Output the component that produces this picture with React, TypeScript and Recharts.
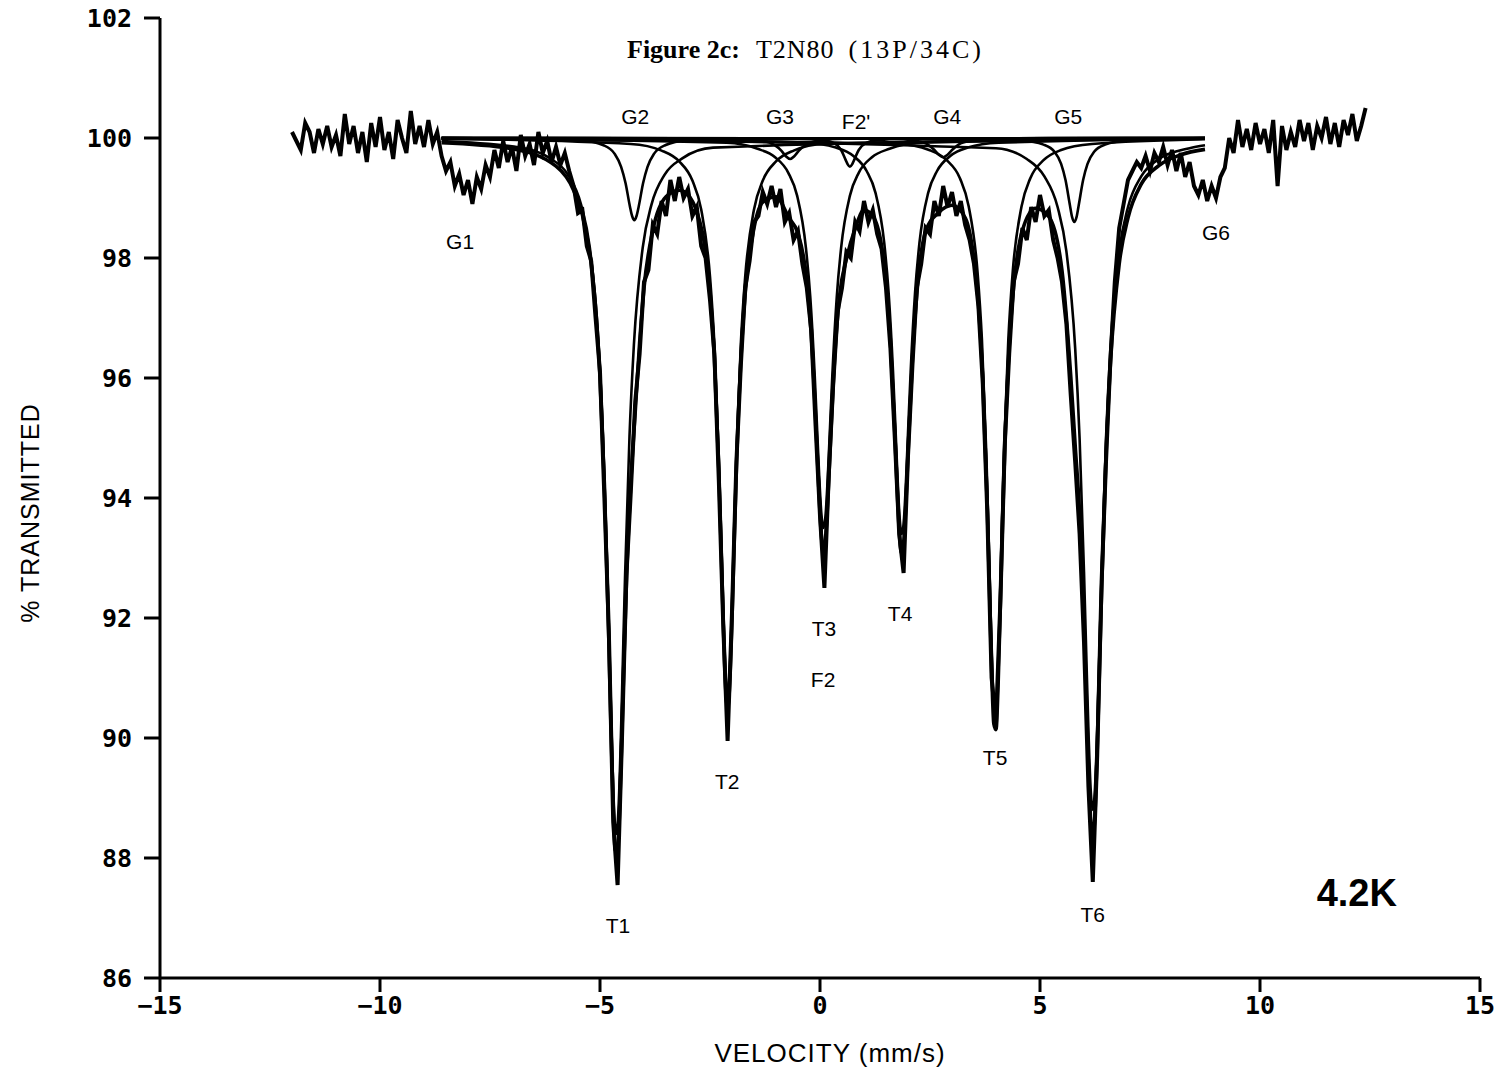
import { LineChart, Line, XAxis, YAxis, ReferenceDot } from 'recharts';

type Pt = [number, number];

const velocityTicks = [-15, -10, -5, 0, 5, 10, 15];
const transmissionTicks = [86, 88, 90, 92, 94, 96, 98, 100, 102];

// measured spectrum: [velocity mm/s, % transmitted]
const measured: Pt[] = [
    [-12.0, 100.1], [-11.9, 99.95], [-11.8, 99.8], [-11.7, 100.25], [-11.6, 100.1], [-11.5, 99.75], [-11.4, 100.15], [-11.3, 99.9], [-11.2, 100.2], [-11.1, 99.85],
    [-11.0, 100.05], [-10.9, 99.7], [-10.8, 100.4], [-10.7, 99.9], [-10.6, 100.2], [-10.5, 99.75], [-10.4, 100.1], [-10.3, 99.6], [-10.2, 100.25], [-10.1, 99.85],
    [-10.0, 100.35], [-9.9, 99.8], [-9.8, 100.1], [-9.7, 99.65], [-9.6, 100.3], [-9.5, 100.0], [-9.4, 99.75], [-9.3, 100.45], [-9.2, 99.9], [-9.1, 100.2],
    [-9.0, 99.85], [-8.9, 100.3], [-8.8, 99.9], [-8.7, 100.1], [-8.6, 99.7], [-8.5, 99.45], [-8.4, 99.6], [-8.3, 99.2], [-8.2, 99.4], [-8.1, 99.05],
    [-8.0, 99.3], [-7.9, 98.9], [-7.8, 99.35], [-7.7, 99.15], [-7.6, 99.55], [-7.5, 99.35], [-7.4, 99.8], [-7.3, 99.5], [-7.2, 99.95], [-7.1, 99.6],
    [-7.0, 99.85], [-6.9, 99.45], [-6.8, 100.05], [-6.7, 99.7], [-6.6, 99.9], [-6.5, 99.55], [-6.4, 100.1], [-6.3, 99.75], [-6.2, 99.95], [-6.1, 99.6],
    [-6.0, 99.85], [-5.9, 99.55], [-5.8, 99.75], [-5.7, 99.45], [-5.6, 99.2], [-5.5, 98.75], [-5.4, 98.8], [-5.3, 98.2], [-5.2, 97.95], [-5.1, 97.0],
    [-5.0, 96.1], [-4.9, 94.0], [-4.8, 91.8], [-4.7, 88.6], [-4.6, 87.55], [-4.5, 90.0], [-4.4, 92.7], [-4.3, 94.1], [-4.2, 95.6], [-4.1, 96.4],
    [-4.0, 97.6], [-3.9, 97.8], [-3.8, 98.55], [-3.7, 98.4], [-3.6, 98.95], [-3.5, 98.7], [-3.4, 99.3], [-3.3, 98.95], [-3.2, 99.35], [-3.1, 99.0],
    [-3.0, 99.15], [-2.9, 98.7], [-2.8, 98.85], [-2.7, 98.2], [-2.6, 98.0], [-2.5, 97.3], [-2.4, 96.4], [-2.3, 94.3], [-2.2, 91.9], [-2.1, 89.95],
    [-2.0, 92.1], [-1.9, 94.6], [-1.8, 96.2], [-1.7, 97.5], [-1.6, 97.95], [-1.5, 98.6], [-1.4, 98.7], [-1.3, 99.1], [-1.2, 98.9], [-1.1, 99.2],
    [-1.0, 98.85], [-0.9, 99.15], [-0.8, 98.6], [-0.7, 98.75], [-0.6, 98.3], [-0.5, 98.45], [-0.4, 97.9], [-0.3, 97.5], [-0.2, 96.8], [-0.1, 95.2],
    [0.0, 93.7], [0.1, 92.5], [0.2, 94.4], [0.3, 95.9], [0.4, 97.1], [0.5, 97.5], [0.6, 98.1], [0.7, 98.0], [0.8, 98.6], [0.9, 98.45],
    [1.0, 98.95], [1.1, 98.6], [1.2, 98.8], [1.3, 98.4], [1.4, 98.15], [1.5, 97.5], [1.6, 96.5], [1.7, 95.0], [1.8, 93.4], [1.9, 92.75],
    [2.0, 94.7], [2.1, 96.2], [2.2, 97.5], [2.3, 97.9], [2.4, 98.5], [2.5, 98.4], [2.6, 98.95], [2.7, 98.7], [2.8, 99.2], [2.9, 98.85],
    [3.0, 99.1], [3.1, 98.7], [3.2, 98.95], [3.3, 98.55], [3.4, 98.3], [3.5, 97.9], [3.6, 97.2], [3.7, 95.9], [3.8, 93.8], [3.9, 91.0],
    [4.0, 90.25], [4.1, 92.3], [4.2, 94.9], [4.3, 96.4], [4.4, 97.6], [4.5, 97.9], [4.6, 98.5], [4.7, 98.3], [4.8, 98.85], [4.9, 98.6],
    [5.0, 99.05], [5.1, 98.7], [5.2, 98.8], [5.3, 98.3], [5.4, 98.0], [5.5, 97.6], [5.6, 96.9], [5.7, 95.7], [5.8, 94.6], [5.9, 93.4],
    [6.0, 91.6], [6.1, 89.2], [6.2, 87.6], [6.3, 89.7], [6.4, 92.6], [6.5, 94.6], [6.6, 96.3], [6.7, 97.6], [6.8, 98.5], [6.9, 98.9],
    [7.0, 99.3], [7.1, 99.45], [7.2, 99.6], [7.3, 99.5], [7.4, 99.7], [7.5, 99.45], [7.6, 99.75], [7.7, 99.6], [7.8, 99.85], [7.9, 99.55],
    [8.0, 99.8], [8.1, 99.45], [8.2, 99.75], [8.3, 99.35], [8.4, 99.6], [8.5, 99.2], [8.6, 99.05], [8.7, 99.3], [8.8, 98.95], [8.9, 99.2],
    [9.0, 99.0], [9.1, 99.35], [9.2, 99.5], [9.3, 100.0], [9.4, 99.75], [9.5, 100.3], [9.6, 99.85], [9.7, 100.15], [9.8, 99.8], [9.9, 100.25],
    [10.0, 99.9], [10.1, 100.15], [10.2, 99.75], [10.3, 100.3], [10.4, 99.2], [10.5, 100.2], [10.6, 99.8], [10.7, 100.1], [10.8, 99.85], [10.9, 100.3],
    [11.0, 99.95], [11.1, 100.25], [11.2, 99.8], [11.3, 100.2], [11.4, 100.0], [11.5, 100.35], [11.6, 99.9], [11.7, 100.25], [11.8, 99.85], [11.9, 100.3],
    [12.0, 100.05], [12.1, 100.4], [12.2, 99.95], [12.3, 100.2], [12.4, 100.5],
];

// total fitted envelope
const fitTotal: Pt[] = [
    [-8.6, 99.92], [-7.0, 99.82], [-6.0, 99.53], [-5.6, 99.13], [-5.4, 98.72], [-5.2, 97.9], [-5.1, 97.18], [-5.0, 96.0], [-4.9, 94.23], [-4.8, 91.65],
    [-4.75, 90.17], [-4.7, 88.87], [-4.65, 88.12], [-4.6, 88.13], [-4.55, 88.9], [-4.5, 90.12], [-4.45, 91.43], [-4.4, 92.59], [-4.3, 94.26], [-4.2, 95.43],
    [-4.1, 96.58], [-4.0, 97.5], [-3.8, 98.46], [-3.5, 99.02], [-3.2, 99.13], [-3.0, 99.05], [-2.8, 98.77], [-2.6, 98.11], [-2.5, 97.44], [-2.4, 96.33],
    [-2.3, 94.49], [-2.25, 93.26], [-2.2, 91.98], [-2.15, 90.92], [-2.1, 90.5], [-2.05, 90.93], [-2.0, 91.98], [-1.95, 93.27], [-1.9, 94.5], [-1.8, 96.29],
    [-1.7, 97.41], [-1.5, 98.5], [-1.3, 98.93], [-1.0, 99.02], [-0.7, 98.66], [-0.5, 98.41], [-0.3, 97.62], [-0.2, 96.74], [-0.1, 95.36], [-0.05, 94.53],
    [0.0, 93.75], [0.05, 93.24], [0.1, 93.17], [0.15, 93.6], [0.2, 94.32], [0.25, 95.13], [0.35, 96.53], [0.45, 97.4], [0.6, 97.98], [0.8, 98.49],
    [1.0, 98.8], [1.2, 98.7], [1.4, 98.2], [1.5, 97.61], [1.6, 96.63], [1.7, 95.1], [1.75, 94.22], [1.8, 93.46], [1.85, 93.08], [1.9, 93.25],
    [1.95, 93.88], [2.0, 94.73], [2.1, 96.31], [2.2, 97.4], [2.4, 98.44], [2.7, 98.76], [3.0, 98.88], [3.3, 98.67], [3.5, 97.97], [3.6, 97.24],
    [3.7, 95.99], [3.8, 93.91], [3.85, 92.54], [3.9, 91.18], [3.95, 90.24], [4.0, 90.14], [4.05, 90.94], [4.1, 92.25], [4.15, 93.64], [4.2, 94.84],
    [4.3, 96.53], [4.4, 97.51], [4.6, 98.46], [4.9, 98.83], [5.2, 98.69], [5.5, 97.79], [5.7, 96.02], [5.8, 94.87], [5.9, 93.75], [6.0, 91.94],
    [6.05, 90.74], [6.1, 89.56], [6.15, 88.65], [6.2, 88.34], [6.25, 88.76], [6.3, 89.78], [6.35, 91.1], [6.4, 92.45], [6.5, 94.71], [6.6, 96.23],
    [6.8, 97.9], [7.0, 98.67], [7.3, 99.23], [7.7, 99.54], [8.2, 99.72], [8.75, 99.81],
];

// fitted sub-spectra lines
const fitT1: Pt[] = [
    [-8.6, 99.95], [-6.83, 99.84], [-6.13, 99.66], [-5.73, 99.39], [-5.43, 98.89], [-5.23, 98.17], [-5.03, 96.55], [-4.93, 95.02], [-4.83, 92.71], [-4.78, 91.3],
    [-4.73, 89.9], [-4.68, 88.81], [-4.63, 88.4], [-4.58, 88.81], [-4.53, 89.9], [-4.48, 91.3], [-4.43, 92.71], [-4.33, 95.02], [-4.23, 96.55], [-4.03, 98.17],
    [-3.83, 98.89], [-3.53, 99.39], [-3.13, 99.66], [-2.43, 99.84], [8.75, 100.0],
];
const fitT2: Pt[] = [
    [-8.6, 99.99], [-4.3, 99.9], [-3.6, 99.79], [-3.2, 99.61], [-2.9, 99.29], [-2.7, 98.81], [-2.5, 97.69], [-2.4, 96.56], [-2.3, 94.7], [-2.25, 93.47],
    [-2.2, 92.18], [-2.15, 91.12], [-2.1, 90.7], [-2.05, 91.12], [-2.0, 92.18], [-1.95, 93.47], [-1.9, 94.7], [-1.8, 96.56], [-1.7, 97.69], [-1.5, 98.81],
    [-1.3, 99.29], [-1.0, 99.61], [-0.6, 99.79], [0.1, 99.9], [8.75, 99.99],
];
const fitT3: Pt[] = [
    [-8.6, 99.99], [-2.12, 99.92], [-1.42, 99.82], [-1.02, 99.68], [-0.72, 99.42], [-0.52, 99.04], [-0.32, 98.17], [-0.22, 97.34], [-0.12, 96.04], [-0.07, 95.22],
    [-0.02, 94.4], [0.03, 93.75], [0.08, 93.5], [0.13, 93.75], [0.18, 94.4], [0.23, 95.22], [0.28, 96.04], [0.38, 97.34], [0.48, 98.17], [0.68, 99.04],
    [0.88, 99.42], [1.18, 99.68], [1.58, 99.82], [2.28, 99.92], [8.75, 99.99],
];
const fitT4: Pt[] = [
    [-8.6, 99.99], [-0.34, 99.92], [0.36, 99.84], [0.76, 99.7], [1.06, 99.45], [1.26, 99.09], [1.46, 98.25], [1.56, 97.42], [1.66, 96.1], [1.71, 95.26],
    [1.76, 94.38], [1.81, 93.67], [1.86, 93.4], [1.91, 93.67], [1.96, 94.38], [2.01, 95.26], [2.06, 96.1], [2.16, 97.42], [2.26, 98.25], [2.46, 99.09],
    [2.66, 99.45], [2.96, 99.7], [3.36, 99.84], [4.06, 99.92], [8.75, 99.99],
];
const fitT5: Pt[] = [
    [-8.6, 100.0], [1.78, 99.9], [2.48, 99.8], [2.88, 99.63], [3.18, 99.33], [3.38, 98.86], [3.58, 97.77], [3.68, 96.64], [3.78, 94.74], [3.83, 93.45],
    [3.88, 92.04], [3.93, 90.87], [3.98, 90.4], [4.03, 90.87], [4.08, 92.04], [4.13, 93.45], [4.18, 94.74], [4.28, 96.64], [4.38, 97.77], [4.58, 98.86],
    [4.78, 99.33], [5.08, 99.63], [5.48, 99.8], [6.18, 99.9], [8.75, 99.98],
];
const fitT6: Pt[] = [
    [-8.6, 100.0], [4.0, 99.83], [4.7, 99.65], [5.1, 99.36], [5.4, 98.85], [5.6, 98.11], [5.8, 96.49], [5.9, 94.99], [6.0, 92.77], [6.05, 91.44],
    [6.1, 90.15], [6.15, 89.17], [6.2, 88.8], [6.25, 89.17], [6.3, 90.15], [6.35, 91.44], [6.4, 92.77], [6.5, 94.99], [6.6, 96.49], [6.8, 98.11],
    [7.0, 98.85], [7.3, 99.36], [7.7, 99.65], [8.4, 99.83], [8.75, 99.88],
];
const fitG2: Pt[] = [
    [-8.6, 100.0], [-6.72, 99.99], [-5.42, 99.96], [-4.92, 99.88], [-4.67, 99.74], [-4.52, 99.52], [-4.42, 99.25], [-4.32, 98.86], [-4.27, 98.7], [-4.22, 98.63],
    [-4.17, 98.7], [-4.12, 98.86], [-4.02, 99.25], [-3.92, 99.52], [-3.77, 99.74], [-3.52, 99.88], [-3.02, 99.96], [-1.72, 99.99], [8.75, 100.0],
];
const fitG3: Pt[] = [
    [-8.6, 100.0], [-1.88, 99.99], [-1.28, 99.95], [-1.03, 99.88], [-0.88, 99.79], [-0.78, 99.7], [-0.68, 99.65], [-0.58, 99.7], [-0.48, 99.79], [-0.33, 99.88],
    [-0.08, 99.95], [0.52, 99.99], [8.75, 100.0],
];
const fitF2p: Pt[] = [
    [-8.6, 100.0], [-0.52, 99.99], [0.08, 99.96], [0.33, 99.91], [0.48, 99.8], [0.58, 99.64], [0.63, 99.56], [0.68, 99.52], [0.73, 99.56], [0.78, 99.64],
    [0.88, 99.8], [1.03, 99.91], [1.28, 99.96], [1.88, 99.99], [8.75, 100.0],
];
const fitG4: Pt[] = [
    [-8.6, 100.0], [1.6, 99.99], [2.2, 99.95], [2.45, 99.89], [2.6, 99.8], [2.7, 99.72], [2.8, 99.68], [2.9, 99.72], [3.0, 99.8], [3.15, 99.89],
    [3.4, 99.95], [4.0, 99.99], [8.75, 100.0],
];
const fitG5: Pt[] = [
    [-8.6, 100.0], [3.28, 99.99], [4.58, 99.96], [5.08, 99.89], [5.33, 99.77], [5.48, 99.57], [5.58, 99.3], [5.68, 98.88], [5.73, 98.68], [5.78, 98.6],
    [5.83, 98.68], [5.88, 98.88], [5.98, 99.3], [6.08, 99.57], [6.23, 99.77], [6.48, 99.89], [6.98, 99.96], [8.28, 99.99], [8.75, 100.0],
];

const subSpectra = [fitT1, fitT2, fitT3, fitT4, fitT5, fitT6, fitG2, fitG3, fitF2p, fitG4, fitG5];

const lineNames = ['G1', 'G2', 'G3', "F2'", 'G4', 'G5', 'G6', 'T1', 'T2', 'T3', 'F2', 'T4', 'T5', 'T6'];
const lineNameVelocity = [-8.18, -4.2, -0.91, 0.82, 2.89, 5.64, 9.0, -4.59, -2.11, 0.09, 0.07, 1.82, 3.98, 6.2];
const lineNameTransmission = [98.27, 100.35, 100.35, 100.27, 100.35, 100.35, 98.43, 86.87, 89.28, 91.82, 90.98, 92.08, 89.67, 87.05];

const rows = (pts: Pt[]) => pts.map(([v, t]) => ({ v, t }));

const tickFont = { fill: '#000', fontFamily: 'DejaVu Sans Mono', fontWeight: 'bold', fontSize: 25 };
const axisStroke = { stroke: '#000', strokeWidth: 3 };

const App: React.FC = () => (
    <div style={{ position: 'absolute', left: 0, top: 0, width: 1510, height: 1078, background: '#fff' }}>
        <LineChart width={1510} height={1078} margin={{ top: 18, right: 30, bottom: 0, left: 0 }}>
            <XAxis
                type="number"
                dataKey="v"
                domain={[-15, 15]}
                ticks={velocityTicks}
                allowDataOverflow
                height={100}
                tickSize={14}
                tickMargin={4}
                tick={tickFont}
                tickFormatter={(v: number) => (v < 0 ? '\u2212' + Math.abs(v) : String(v))}
                axisLine={axisStroke}
                tickLine={axisStroke}
            />
            <YAxis
                type="number"
                domain={[86, 102]}
                ticks={transmissionTicks}
                allowDataOverflow
                width={160}
                tickSize={16}
                tickMargin={12}
                tick={tickFont}
                axisLine={axisStroke}
                tickLine={axisStroke}
            />
            {subSpectra.map((s, i) => (
                <Line key={i} data={rows(s)} dataKey="t" type="monotone" stroke="#000" strokeWidth={2.6}
                    dot={false} activeDot={false} isAnimationActive={false} />
            ))}
            <Line data={rows(fitTotal)} dataKey="t" type="monotone" stroke="#000" strokeWidth={3.6}
                dot={false} activeDot={false} isAnimationActive={false} />
            <Line data={rows(measured)} dataKey="t" type="linear" stroke="#000" strokeWidth={4}
                dot={false} activeDot={false} isAnimationActive={false} />
            {lineNames.map((n, i) => (
                <ReferenceDot key={n} x={lineNameVelocity[i]} y={lineNameTransmission[i]} r={0} fill="none" stroke="none"
                    label={{ value: n, position: 'center', fill: '#000', fontFamily: 'Liberation Sans', fontSize: 21 }} />
            ))}
            <ReferenceDot x={12.2} y={87.42} r={0} fill="none" stroke="none"
                label={{ value: '4.2K', position: 'center', fill: '#000', fontFamily: 'Liberation Sans', fontWeight: 'bold', fontSize: 38 }} />
        </LineChart>
        <div style={{ position: 'absolute', left: 627, top: 35, fontFamily: 'Liberation Serif', fontSize: 26, whiteSpace: 'nowrap', color: '#000' }}>
            <span style={{ fontWeight: 'bold' }}>Figure 2c:</span>
            <span style={{ marginLeft: 16, letterSpacing: 1 }}>T2N80</span>
            <span style={{ marginLeft: 14, letterSpacing: 3 }}>(13P/34C)</span>
        </div>
        <div style={{
            position: 'absolute', left: 830, top: 1053, transform: 'translate(-50%, -50%)',
            fontFamily: 'Liberation Sans', fontSize: 26, letterSpacing: 1, whiteSpace: 'nowrap', color: '#000',
        }}>
            VELOCITY (mm/s)
        </div>
        <div style={{
            position: 'absolute', left: 30, top: 513, transform: 'translate(-50%, -50%) rotate(-90deg)',
            fontFamily: 'Liberation Sans', fontSize: 25, letterSpacing: 1, whiteSpace: 'nowrap', color: '#000',
        }}>
            % TRANSMITTED
        </div>
    </div>
);

export default App;
